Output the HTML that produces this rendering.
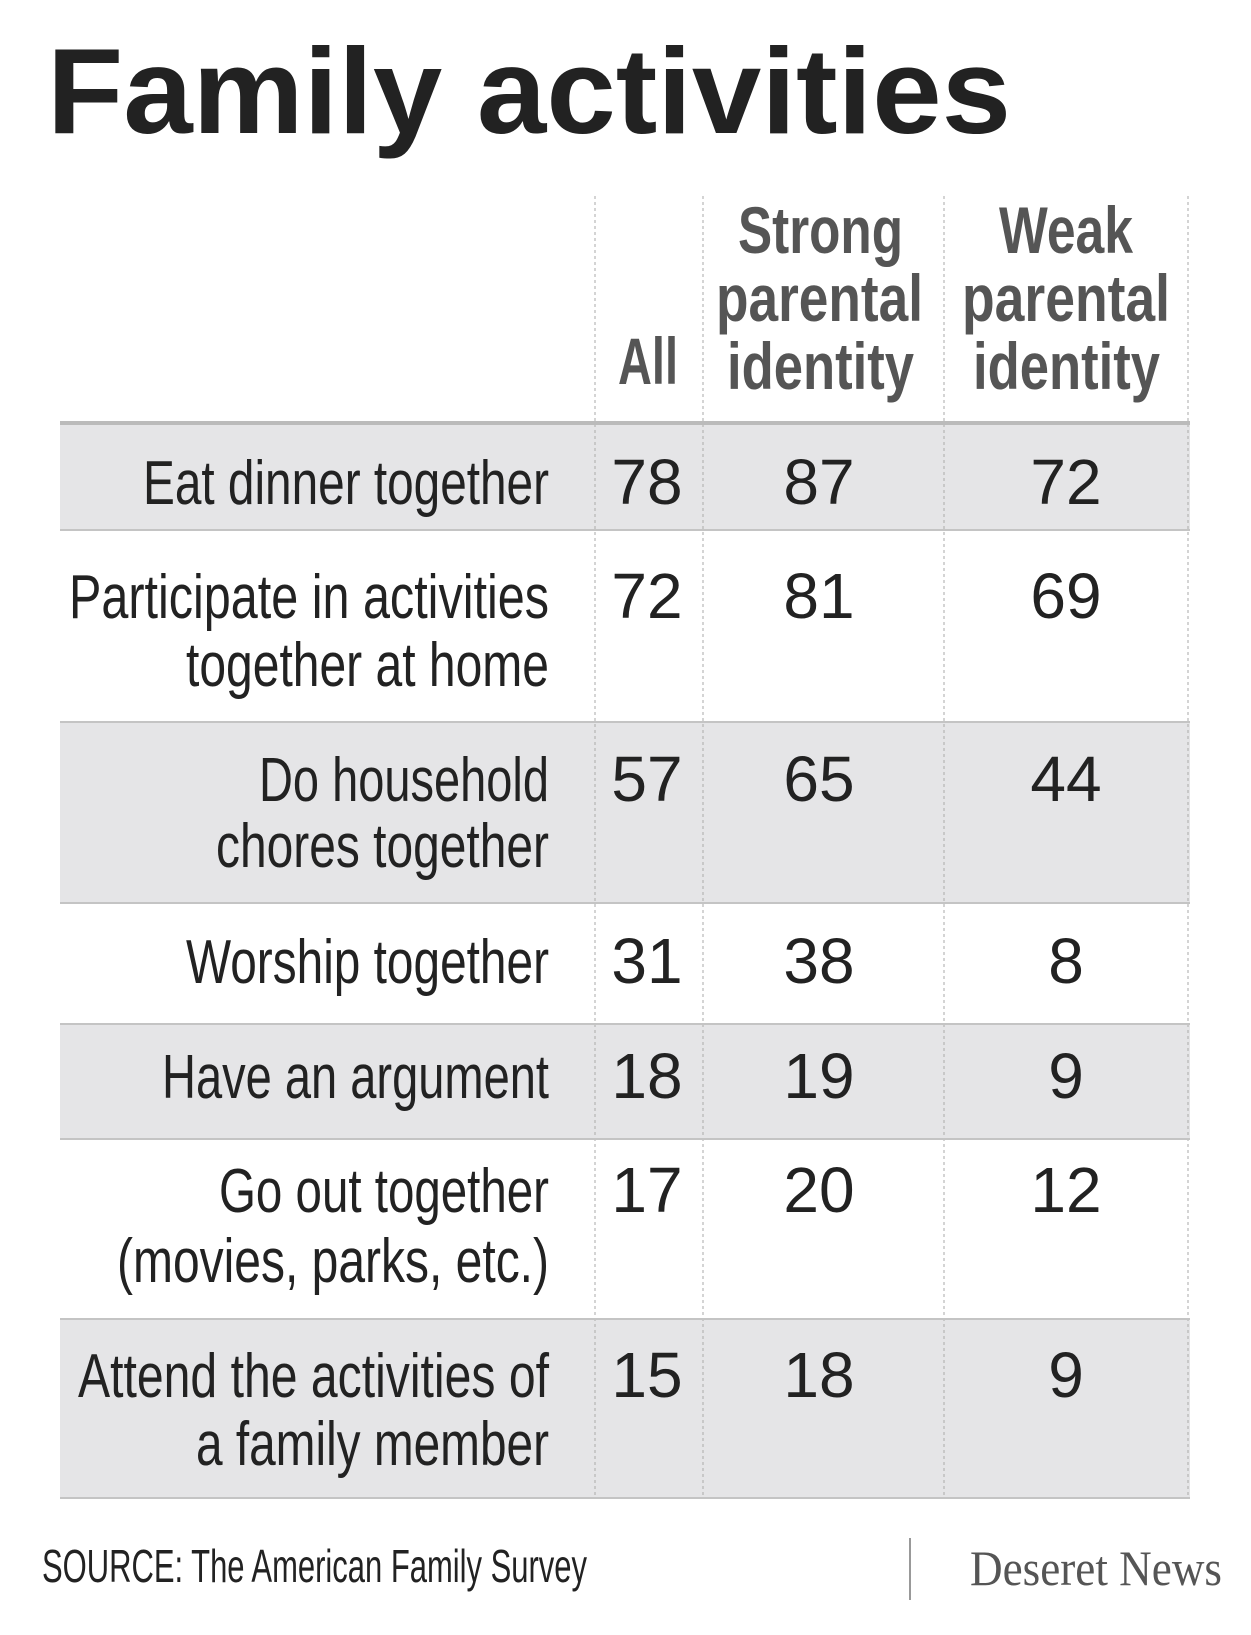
<!DOCTYPE html>
<html><head><meta charset="utf-8"><style>html,body{margin:0;padding:0;background:#fff}svg{display:block}</style></head>
<body>
<svg width="1251" height="1635" viewBox="0 0 1251 1635" xmlns="http://www.w3.org/2000/svg">
<rect width="1251" height="1635" fill="#fff"/>
<text x="47" y="133" font-family="Liberation Sans, sans-serif" font-weight="bold" font-size="122" fill="#222" textLength="964" lengthAdjust="spacingAndGlyphs">Family activities</text>
<g fill="#e5e5e7">
<rect x="60" y="422" width="1130" height="108"/>
<rect x="60" y="722" width="1130" height="181"/>
<rect x="60" y="1024" width="1130" height="115"/>
<rect x="60" y="1319" width="1130" height="179"/>
</g>
<g stroke="#aaa" stroke-width="1" stroke-dasharray="3,3">
<line x1="595" y1="196" x2="595" y2="1498"/>
<line x1="703" y1="196" x2="703" y2="1498"/>
<line x1="944" y1="196" x2="944" y2="1498"/>
<line x1="1188" y1="196" x2="1188" y2="1498"/>
</g>
<line x1="60" y1="423" x2="1190" y2="423" stroke="#bbb" stroke-width="4"/>
<g stroke="#c4c4c4" stroke-width="2">
<line x1="60" y1="530" x2="1190" y2="530"/>
<line x1="60" y1="722" x2="1190" y2="722"/>
<line x1="60" y1="903" x2="1190" y2="903"/>
<line x1="60" y1="1024" x2="1190" y2="1024"/>
<line x1="60" y1="1139" x2="1190" y2="1139"/>
<line x1="60" y1="1319" x2="1190" y2="1319"/>
<line x1="60" y1="1498" x2="1190" y2="1498"/>
</g>
<g font-family="Liberation Sans, sans-serif" font-weight="bold" font-size="66" fill="#555">
<text x="618" y="384" textLength="60" lengthAdjust="spacingAndGlyphs">All</text>
<text x="738" y="253" textLength="165" lengthAdjust="spacingAndGlyphs">Strong</text>
<text x="716" y="321" textLength="207" lengthAdjust="spacingAndGlyphs">parental</text>
<text x="727" y="389" textLength="187" lengthAdjust="spacingAndGlyphs">identity</text>
<text x="999" y="253" textLength="134" lengthAdjust="spacingAndGlyphs">Weak</text>
<text x="962" y="321" textLength="208" lengthAdjust="spacingAndGlyphs">parental</text>
<text x="973" y="389" textLength="187" lengthAdjust="spacingAndGlyphs">identity</text>
</g>
<g font-family="Liberation Sans, sans-serif" font-size="62" fill="#222">
<text x="143" y="504" textLength="406" lengthAdjust="spacingAndGlyphs">Eat dinner together</text>
<text x="69" y="618" textLength="480" lengthAdjust="spacingAndGlyphs">Participate in activities</text>
<text x="186" y="686" textLength="363" lengthAdjust="spacingAndGlyphs">together at home</text>
<text x="259" y="801" textLength="290" lengthAdjust="spacingAndGlyphs">Do household</text>
<text x="216" y="867" textLength="333" lengthAdjust="spacingAndGlyphs">chores together</text>
<text x="186" y="983" textLength="363" lengthAdjust="spacingAndGlyphs">Worship together</text>
<text x="162" y="1098" textLength="387" lengthAdjust="spacingAndGlyphs">Have an argument</text>
<text x="219" y="1212" textLength="330" lengthAdjust="spacingAndGlyphs">Go out together</text>
<text x="117" y="1282" textLength="432" lengthAdjust="spacingAndGlyphs">(movies, parks, etc.)</text>
<text x="78" y="1397" textLength="471" lengthAdjust="spacingAndGlyphs">Attend the activities of</text>
<text x="196" y="1465" textLength="353" lengthAdjust="spacingAndGlyphs">a family member</text>
</g>
<g font-family="Liberation Sans, sans-serif" font-size="64" fill="#222" text-anchor="middle">
<text x="647" y="504">78</text><text x="819" y="504">87</text><text x="1066" y="504">72</text>
<text x="647" y="618">72</text><text x="819" y="618">81</text><text x="1066" y="618">69</text>
<text x="647" y="801">57</text><text x="819" y="801">65</text><text x="1066" y="801">44</text>
<text x="647" y="983">31</text><text x="819" y="983">38</text><text x="1066" y="983">8</text>
<text x="647" y="1098">18</text><text x="819" y="1098">19</text><text x="1066" y="1098">9</text>
<text x="647" y="1212">17</text><text x="819" y="1212">20</text><text x="1066" y="1212">12</text>
<text x="647" y="1397">15</text><text x="819" y="1397">18</text><text x="1066" y="1397">9</text>
</g>
<text x="42" y="1582" font-family="Liberation Sans, sans-serif" font-size="46" fill="#222" textLength="545" lengthAdjust="spacingAndGlyphs">SOURCE: The American Family Survey</text>
<line x1="910" y1="1538" x2="910" y2="1600" stroke="#999" stroke-width="2"/>
<text x="970" y="1585" font-family="Liberation Serif, serif" font-size="50" fill="#555" textLength="252" lengthAdjust="spacingAndGlyphs">Deseret News</text>
</svg>
</body></html>
